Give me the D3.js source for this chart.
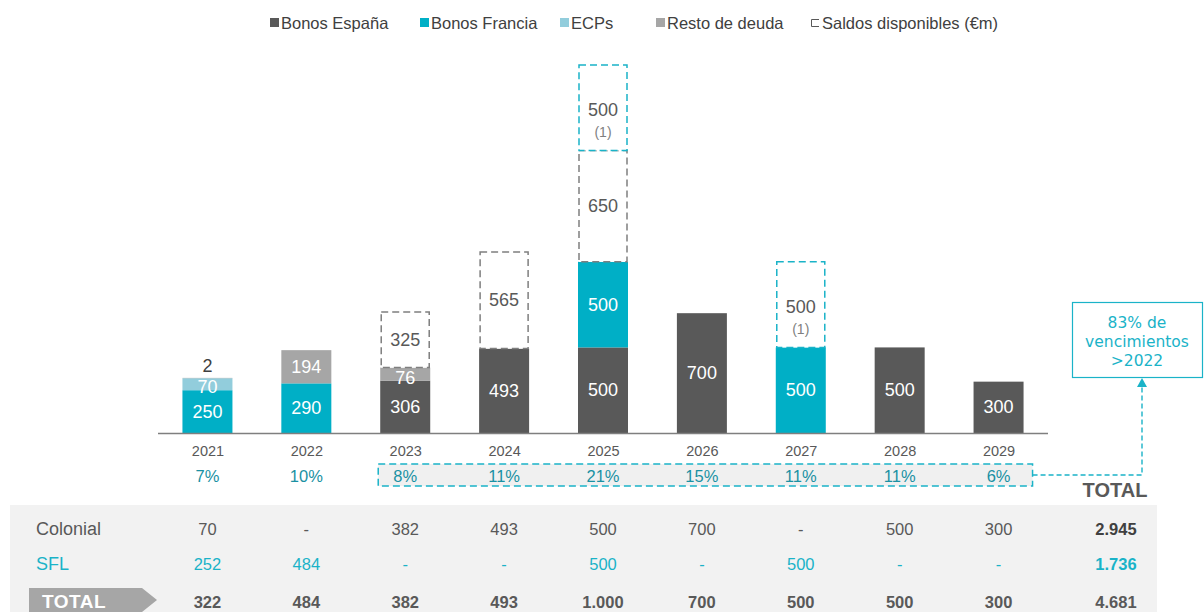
<!DOCTYPE html>
<html>
<head>
<meta charset="utf-8">
<title>Vencimientos de deuda</title>
<style>
  body { margin: 0; background: #fff; }
  svg text { font-family: "Liberation Sans", Arial, sans-serif; }
</style>
</head>
<body>
<svg id="chart"></svg>
<script src="https://d3js.org/d3.v7.min.js"></script>
<script>
// data
const years = ['2021', '2022', '2023', '2024', '2025', '2026', '2027', '2028', '2029'];
const bonosEspana  = [0, 0, 306, 493, 500, 700, 0, 500, 300];
const bonosFrancia = [250, 290, 0, 0, 500, 0, 500, 0, 0];
const ecps         = [70, 0, 0, 0, 0, 0, 0, 0, 0];
const restoDeuda   = [2, 194, 76, 0, 0, 0, 0, 0, 0];
const saldos       = [0, 0, 325, 565, 650, 0, 0, 0, 0];
const saldosNota   = [0, 0, 0, 0, 500, 0, 500, 0, 0];   // marked (1)
const pcts = ['7%', '10%', '8%', '11%', '21%', '15%', '11%', '11%', '6%'];

const colonial = ['70', '-', '382', '493', '500', '700', '-', '500', '300'];
const sfl      = ['252', '484', '-', '-', '500', '-', '500', '-', '-'];
const totals   = ['322', '484', '382', '493', '1.000', '700', '500', '500', '300'];
const rowTotals = ['2.945', '1.736', '4.681'];

const W = 1204, H = 612;
const teal = '#00afc6', tealDash = '#1ab3c8', tealText = '#1a91a3';
const dark = '#595959', textGray = '#404040';

const svg = d3.select('#chart').attr('width', W).attr('height', H);

const x = d3.scalePoint().domain(years).range([158, 1048]).padding(0.5);
const y = d3.scaleLinear().domain([0, 2150]).range([433, 65]);
const bw = 50;

// legend
const legend = [
  {label: 'Bonos España', color: dark, x: 270},
  {label: 'Bonos Francia', color: teal, x: 420},
  {label: 'ECPs', color: '#92cddc', x: 560},
  {label: 'Resto de deuda', color: '#a6a6a6', x: 656},
  {label: 'Saldos disponibles (€m)', color: null, x: 811}
];
legend.forEach(l => {
  if (l.color) {
    svg.append('rect').attr('x', l.x).attr('y', 18).attr('width', 9).attr('height', 9).attr('fill', l.color);
  } else {
    svg.append('path').attr('d', `M${l.x + 8},19.5 H${l.x + 0.5} V26.5 H${l.x + 8}`)
      .attr('fill', 'none').attr('stroke', '#595959').attr('stroke-width', 1);
  }
  svg.append('text').attr('x', l.x + 11).attr('y', 29).attr('font-size', 16.5)
    .attr('fill', textGray).text(l.label);
});

// stacked segments
const series = [
  {vals: bonosEspana, fill: dark},
  {vals: bonosFrancia, fill: teal},
  {vals: ecps, fill: '#92cddc'},
  {vals: restoDeuda, fill: '#a6a6a6'}
];
const g = svg.append('g');
years.forEach((yr, i) => {
  let base = 0;
  const cx = x(yr);
  series.forEach(s => {
    const v = s.vals[i];
    if (!v) return;
    const y0 = y(base), y1 = y(base + v);
    g.append('rect').attr('x', cx - bw / 2).attr('y', y1).attr('width', bw)
      .attr('height', y0 - y1).attr('fill', s.fill);
    let ly = (y0 + y1) / 2 + 6;
    let col = '#fff';
    if (y0 - y1 < 4) { ly = y1 - 6; col = textGray; }
    else if (y0 - y1 < 16) { ly = y0 + 3; }
    g.append('text').attr('x', cx).attr('y', ly).attr('text-anchor', 'middle')
      .attr('font-size', 18).attr('fill', col).text(v);
    base += v;
  });
  // available balances, dashed
  [[saldos, '#7f7f7f', false], [saldosNota, tealDash, true]].forEach(([arr, stroke, nota]) => {
    const v = arr[i];
    if (!v) return;
    const y0 = y(base), y1 = y(base + v);
    g.append('rect').attr('x', cx - bw / 2 + 1).attr('y', y1).attr('width', bw - 2)
      .attr('height', y0 - y1).attr('fill', '#fff').attr('stroke', stroke)
      .attr('stroke-width', 1.5).attr('stroke-dasharray', '7,4');
    const mid = (y0 + y1) / 2;
    g.append('text').attr('x', cx).attr('y', nota ? mid + 8 : mid + 6).attr('text-anchor', 'middle')
      .attr('font-size', 18).attr('fill', dark).text(v);
    if (nota) {
      g.append('text').attr('x', cx).attr('y', mid + 29).attr('text-anchor', 'middle')
        .attr('font-size', 14).attr('fill', '#7f7f7f').text('(1)');
    }
    base += v;
  });
});

// baseline
svg.append('line').attr('x1', 158).attr('x2', 1048).attr('y1', 433.5).attr('y2', 433.5)
  .attr('stroke', '#7f7f7f').attr('stroke-width', 1.5);

// year axis
const xAxis = svg.append('g').attr('transform', 'translate(0,433)')
  .call(d3.axisBottom(x).tickSize(0).tickPadding(13));
xAxis.select('.domain').remove();
xAxis.selectAll('text').attr('font-size', 14.5).attr('fill', dark)
  .style('font-family', '"Liberation Sans", Arial, sans-serif');

// dashed box around >2022 percentages
const bx0 = x('2023') - 27, bx1 = x('2029') + 34;
svg.append('rect').attr('x', bx0).attr('y', 464).attr('width', bx1 - bx0).attr('height', 22)
  .attr('fill', '#f0f0f0').attr('stroke', tealDash).attr('stroke-width', 1.5)
  .attr('stroke-dasharray', '7,4');

svg.append('g').selectAll('text').data(years).join('text')
  .attr('x', d => x(d)).attr('y', 482).attr('text-anchor', 'middle')
  .attr('font-size', 16.5).attr('fill', tealText).text((d, i) => pcts[i]);

// connector and callout
svg.append('path').attr('d', `M${bx1},475 H1142 V384`).attr('fill', 'none')
  .attr('stroke', tealDash).attr('stroke-width', 1.4).attr('stroke-dasharray', '5,3');
svg.append('path').attr('d', 'M1137,387 L1142,378 L1147,387 Z').attr('fill', tealDash);
svg.append('rect').attr('x', 1072.5).attr('y', 302.5).attr('width', 130).attr('height', 75)
  .attr('fill', '#fff').attr('stroke', tealDash).attr('stroke-width', 1.2);
['83% de', 'vencimientos', '>2022'].forEach((t, i) => {
  svg.append('text').attr('x', 1137).attr('y', 328 + i * 19).attr('text-anchor', 'middle')
    .attr('font-size', 15.5).attr('fill', tealDash)
    .style('font-family', '"DejaVu Sans", Verdana, sans-serif').text(t);
});

svg.append('text').attr('x', 1115).attr('y', 497).attr('text-anchor', 'middle')
  .attr('font-size', 20).attr('font-weight', 'bold').attr('fill', dark).text('TOTAL');

// table
svg.append('rect').attr('x', 10).attr('y', 505).attr('width', 1147).attr('height', 107).attr('fill', '#f2f2f2');
svg.append('path').attr('d', 'M29,588 H142 L157,600 L142,612 H29 Z').attr('fill', '#a6a6a6');

const rows = [
  {label: 'Colonial', vals: colonial, color: dark, bold: false, y: 535},
  {label: 'SFL', vals: sfl, color: tealDash, bold: false, y: 570},
  {label: 'TOTAL', vals: totals, color: dark, bold: true, y: 608}
];
rows.forEach((r, ri) => {
  svg.append('text').attr('x', ri === 2 ? 42 : 36).attr('y', r.y)
    .attr('font-size', ri === 2 ? 19 : 18).attr('font-weight', ri === 2 ? 'bold' : 'normal')
    .attr('letter-spacing', ri === 2 ? 0.5 : 0)
    .attr('fill', ri === 2 ? '#fff' : r.color).text(r.label);
  svg.append('g').selectAll('text').data(years).join('text')
    .attr('x', d => x(d)).attr('y', r.y).attr('text-anchor', 'middle')
    .attr('font-size', 16.5).attr('font-weight', r.bold ? 'bold' : 'normal')
    .attr('fill', r.color).text((d, i) => r.vals[i]);
  svg.append('text').attr('x', 1116).attr('y', r.y).attr('text-anchor', 'middle')
    .attr('font-size', 16.5).attr('font-weight', 'bold')
    .attr('fill', ri === 1 ? tealDash : (ri === 0 ? '#404040' : dark)).text(rowTotals[ri]);
});
</script>
</body>
</html>
